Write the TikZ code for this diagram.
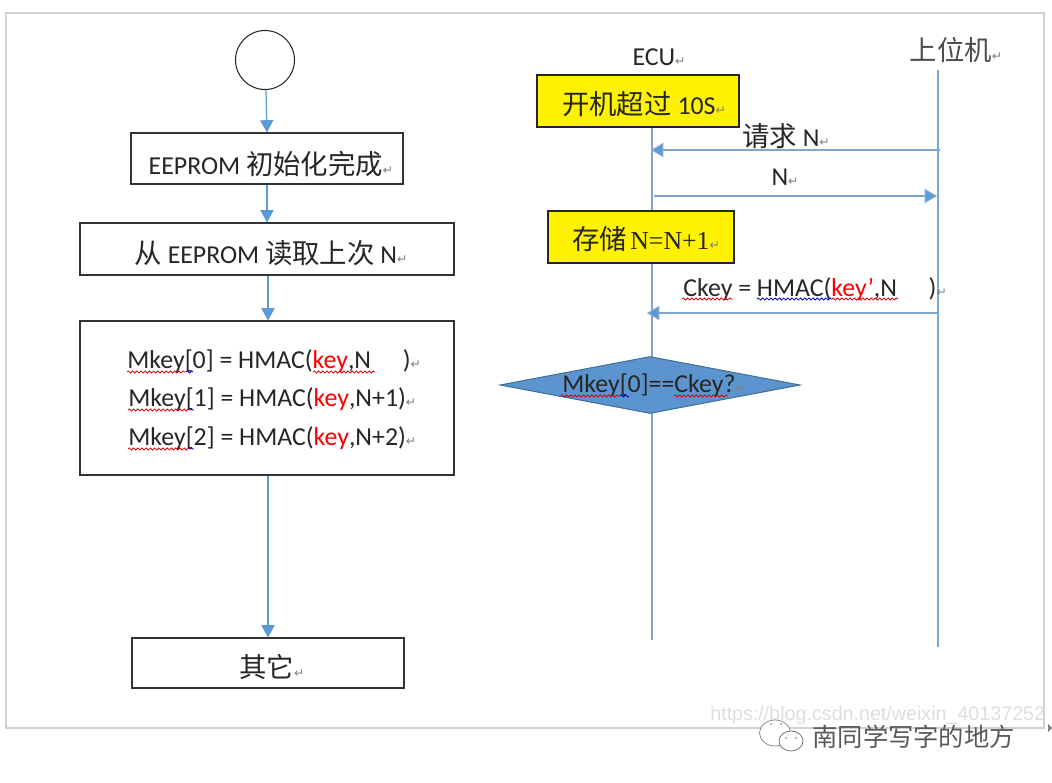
\documentclass[tikz,border=0pt]{standalone}
\usepackage{xcolor}
\usepackage{fontspec}
\setmainfont{Carlito}
\newfontfamily\cjk[Scale=1.06]{Noto Sans CJK SC}
\newfontfamily\symfont{DejaVu Sans}
\newfontfamily\timesfont{Liberation Serif}
\newfontfamily\wmfont{Liberation Sans}
\usetikzlibrary{arrows.meta, positioning, backgrounds, shapes.geometric, decorations.pathmorphing}

\definecolor{flowblue}{HTML}{5B9BD5}
\definecolor{lineblue}{HTML}{7DA7D3}
\definecolor{diamondblue}{HTML}{5B94CF}
\definecolor{edgeblue}{HTML}{41719C}

\newcommand{\zh}[1]{{\cjk #1}}
\newcommand{\ret}{{\symfont\fontsize{7}{8}\selectfont\textcolor{gray}{↵}}}
\newcommand{\rd}[1]{\textcolor{red}{#1}}

\tikzset{
  txt/.style={font=\fontsize{14.7}{17}\selectfont, inner sep=0pt, text=black!85},
  flowbox/.style={draw=black!80, line width=0.6pt, fill=white},
  notebox/.style={draw=black!85, line width=0.6pt, fill=yellow},
  flowarrow/.style={draw=flowblue, line width=0.7pt, -{Triangle[length=7pt, width=7.5pt]}},
  msgarrow/.style={draw=lineblue, line width=0.7pt, -{Triangle[length=7pt, width=8pt, fill=flowblue]}},
  lifeline/.style={draw=lineblue, line width=0.7pt},
  redwave/.style={draw=red!85!black, line width=0.45pt, decorate, decoration={snake, amplitude=0.6pt, segment length=2.4pt}},
  bluewave/.style={redwave, draw=blue!80!black},
  bubble/.style={ellipse, draw=black!50, fill=white, line width=0.4pt, inner sep=0pt}
}

\begin{document}
\begin{tikzpicture}[x=0.02cm, y=-0.02cm]
  \useasboundingbox (0,0) rectangle (1052,783);

  % Flow chart
  \node[draw=black!85, line width=0.6pt, circle, minimum size=59*0.02cm, inner sep=0pt] (start) at (265,60) {};
  \node[flowbox, minimum width=272*0.02cm, minimum height=51*0.02cm] (init) at (267,158.5) {};
  \node[flowbox, minimum width=374*0.02cm, minimum height=52*0.02cm] (readn) at (267,249) {};
  \node[flowbox, minimum width=374*0.02cm, minimum height=154*0.02cm] (derive) at (267,398) {};
  \node[flowbox, minimum width=272*0.02cm, minimum height=50*0.02cm] (other) at (268,663) {};

  \node[txt] (initlabel) at (271,164) {EEPROM \zh{初始化完成}\ret};
  \node[txt] (readlabel) at (271,253) {\zh{从} EEPROM \zh{读取上次} N\ret};
  \node[txt, anchor=west] (mkeya) at (127,361) {Mkey[0] = HMAC(\rd{key},N\hspace{18pt})\ret};
  \node[txt, anchor=west] (mkeyb) at (128,399) {Mkey[1] = HMAC(\rd{key},N+1)\ret};
  \node[txt, anchor=west] (mkeyc) at (128,438) {Mkey[2] = HMAC(\rd{key},N+2)\ret};
  \node[txt] (otherlabel) at (272,667) {\zh{其它}\ret};

  \draw[flowarrow] (start.south) ++(1,0) -- (init.north);
  \draw[flowarrow] (init) -- (readn);
  \draw[flowarrow] (readn.south) ++(1,0) -- ([xshift=1*0.02cm]derive.north);
  \draw[flowarrow] (derive.south) ++(1,0) -- (other.north);

  % Sequence part
  \node[txt] (ecu) at (659,57) {ECU\ret};
  \node[txt, text=black!70] (host) at (956,50) {\zh{上位机}\ret};
  \node[notebox, minimum width=202*0.02cm, minimum height=52*0.02cm] (boot) at (638,101) {};
  \node[notebox, minimum width=186*0.02cm, minimum height=52*0.02cm] (store) at (641,237) {};
  \node[txt] (bootlabel) at (644,104) {\zh{开机超过} 10S\ret};
  \node[txt] (storelabel) at (646,239) {\zh{存储}\hspace{2pt}{\timesfont N=N+1}\ret};
  \node[txt] (reqlabel) at (786,136) {\zh{请求} N\ret};
  \node[txt] (nlabel) at (785,177) {N\ret};
  \node[txt, anchor=west] (ckeylabel) at (683,289) {Ckey = HMAC(\rd{key’},N\hspace{18pt})\ret};
  \node[diamond, draw=edgeblue, line width=0.6pt, fill=diamondblue, aspect=5.3, minimum width=300*0.02cm, minimum height=57*0.02cm, inner sep=0pt] (check) at (650,385) {};
  \node[txt, anchor=west] (checklabel) at (562,385) {Mkey[0]==Ckey?\ret};

  \coordinate (ecutop) at (652,127);
  \coordinate (ecubot) at (652,640);
  \coordinate (hosttop) at (938,70);
  \coordinate (hostbot) at (938,647);
  \coordinate (reqfrom) at (940,150);
  \coordinate (reqto) at (651,150);
  \coordinate (nfrom) at (654,196);
  \coordinate (nto) at (937,196);
  \coordinate (ckeyfrom) at (937,313);
  \coordinate (ckeyto) at (647,313);

  \begin{scope}[on background layer]
    \draw[draw=black!18, line width=1.2pt] (6,13) rectangle (1044,728);
    \draw[lifeline] (ecutop) -- (ecubot);
    \draw[lifeline] (hosttop) -- (hostbot);
  \end{scope}

  \draw[msgarrow] (reqfrom) -- (reqto);
  \draw[msgarrow] (nfrom) -- (nto);
  \draw[msgarrow] (ckeyfrom) -- (ckeyto);

  % Spelling marks
  \foreach \xa/\xb/\yy in {127/186/372, 313/375/372, 128/190/410, 128/190/449, 682/733/299, 832/898/299, 561/620/396, 674/728/396} {
    \draw[redwave] (\xa,\yy) -- (\xb,\yy);
  }
  \foreach \xa/\xb/\yy in {186/193/372, 190/194/410, 190/194/449, 757/832/299, 620/629/396} {
    \draw[bluewave] (\xa,\yy) -- (\xb,\yy);
  }

  % Watermarks
  \node[anchor=west, inner sep=0pt, font=\wmfont\fontsize{11.2}{14}\selectfont, text=black!13] (csdn) at (710,715) {https://blog.csdn.net/weixin\_40137252};
  \node[anchor=west, inner sep=0pt, font=\cjk\fontsize{13.6}{16}\selectfont, text=black!65] (wechat) at (812,737) {南同学写字的地方};
  \node[bubble, minimum width=31*0.02cm, minimum height=26*0.02cm] (bubblea) at (775,733) {};
  \node[bubble, draw=black!60, minimum width=24*0.02cm, minimum height=20*0.02cm] (bubbleb) at (791,741) {};
  \foreach \x/\y in {771/724, 781/724, 786/738, 796/738} {
    \fill[black!55] (\x,\y) circle (0.5pt);
  }
  \fill[black!50] (1048,724) -- (1052,728) -- (1048,732) -- cycle;
\end{tikzpicture}
\end{document}
